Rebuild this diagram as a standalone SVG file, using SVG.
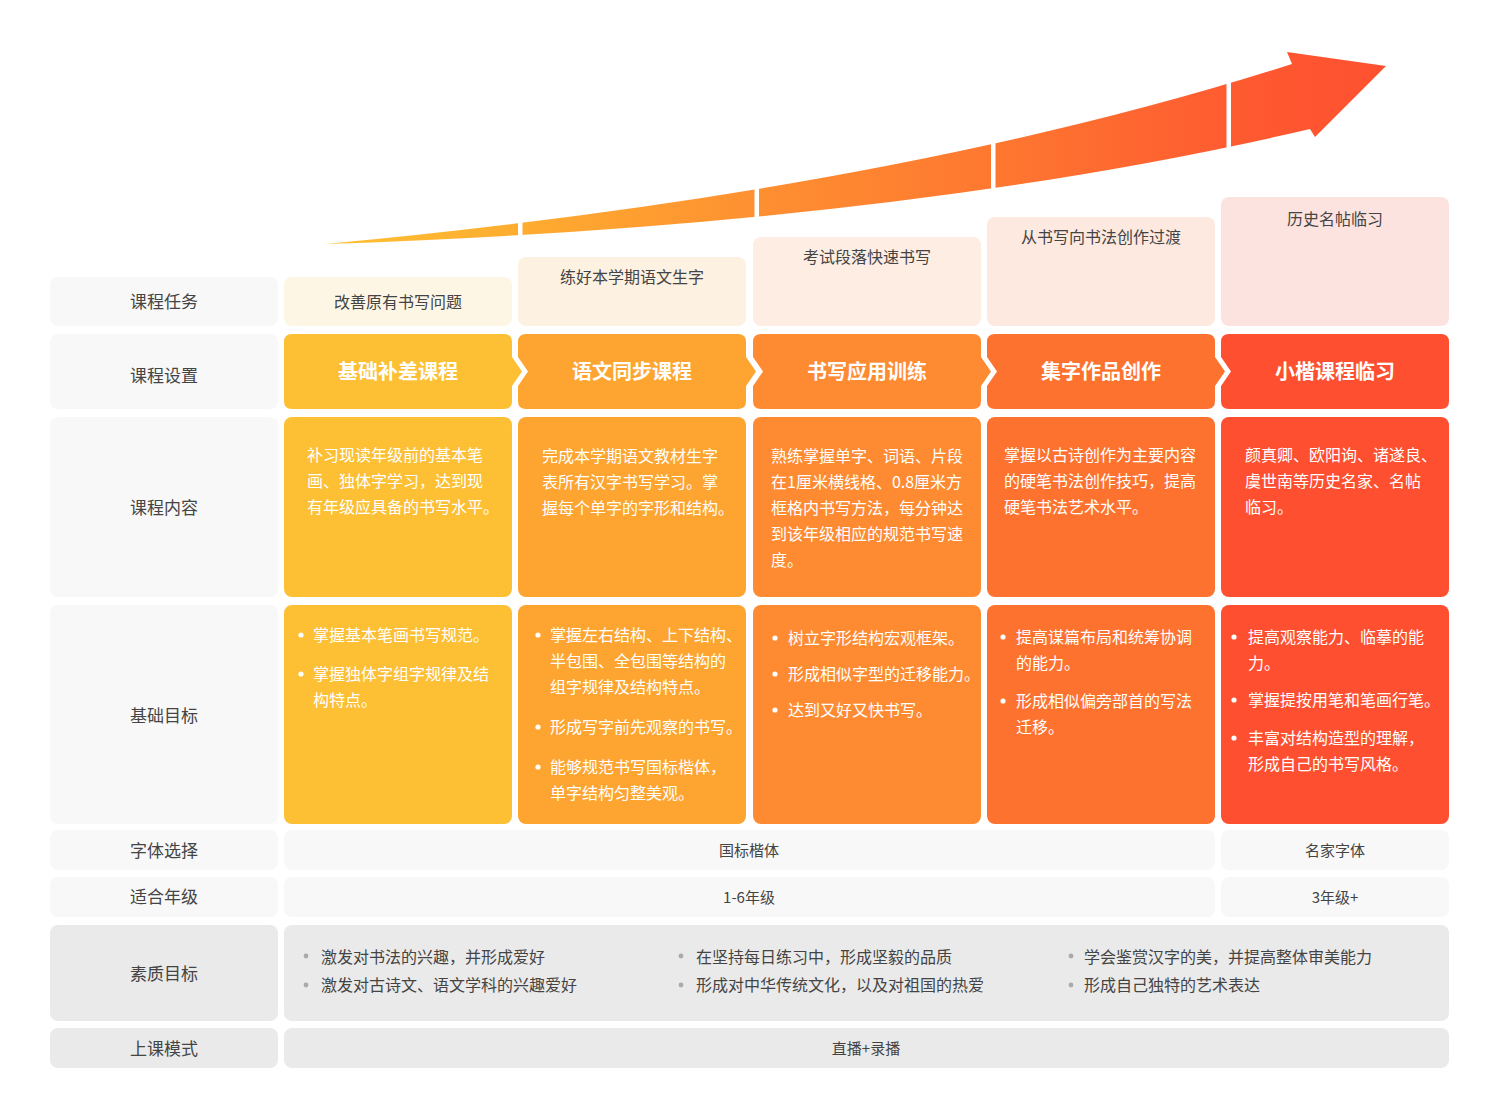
<svg xmlns="http://www.w3.org/2000/svg" width="1500" height="1120" viewBox="0 0 1500 1120">
<defs>
<linearGradient id="arrowGrad" gradientUnits="userSpaceOnUse" x1="325" y1="0" x2="1390" y2="0">
<stop offset="0" stop-color="#FDC133"/>
<stop offset="0.2" stop-color="#FEAA30"/>
<stop offset="0.42" stop-color="#FE8E31"/>
<stop offset="0.65" stop-color="#FE7530"/>
<stop offset="0.86" stop-color="#FE5A30"/>
<stop offset="1" stop-color="#FE5030"/>
</linearGradient>
<style>
text{font-family:"Noto Sans CJK SC","Microsoft YaHei",sans-serif;}
.lbl{fill:#444;font-size:17px;text-anchor:middle;}
.task{fill:#444;font-size:16px;text-anchor:middle;}
.title{fill:#fff;font-size:20px;font-weight:bold;text-anchor:middle;}
.body{fill:#fff;font-size:16px;}
.plain{fill:#444;font-size:15px;text-anchor:middle;}
.q{fill:#444;font-size:16px;}
.lightbox{fill:#F8F8F8;}
.greybox{fill:#EAEAEA;}
.c1{fill:#FDBF34;}
.c2{fill:#FEA531;}
.c3{fill:#FE8B32;}
.c4{fill:#FE7230;}
.c5{fill:#FE5030;}
</style>
</defs>
<rect width="1500" height="1120" fill="#fff"/>

<g id="arrow">
<path d="M325,244 Q900,190 1292,64 L1287,52 L1386,66 L1315,137 L1310,129 Q900,225 325,244 Z" fill="url(#arrowGrad)"/>
<rect x="518" y="200" width="4.5" height="50" fill="#fff"/>
<rect x="754.5" y="170" width="4.5" height="60" fill="#fff"/>
<rect x="991" y="130" width="4.5" height="70" fill="#fff"/>
<rect x="1226.5" y="70" width="4.5" height="90" fill="#fff"/>
</g>

<g id="labels">
<g id="label-task"><rect class="lightbox" x="50" y="277" width="228" height="49" rx="8"/><text class="lbl" x="164" y="308">课程任务</text></g>
<g id="label-setting"><rect class="lightbox" x="50" y="334" width="228" height="75" rx="8"/><text class="lbl" x="164" y="382">课程设置</text></g>
<g id="label-content"><rect class="lightbox" x="50" y="417" width="228" height="180" rx="8"/><text class="lbl" x="164" y="514">课程内容</text></g>
<g id="label-goal"><rect class="lightbox" x="50" y="605" width="228" height="219" rx="8"/><text class="lbl" x="164" y="722">基础目标</text></g>
<g id="label-font"><rect class="lightbox" x="50" y="830" width="228" height="40" rx="8"/><text class="lbl" x="164" y="857">字体选择</text></g>
<g id="label-grade"><rect class="lightbox" x="50" y="877" width="228" height="40" rx="8"/><text class="lbl" x="164" y="903">适合年级</text></g>
<g id="label-quality"><rect class="greybox" x="50" y="925" width="228" height="96" rx="8"/><text class="lbl" x="164" y="980">素质目标</text></g>
<g id="label-mode"><rect class="greybox" x="50" y="1028" width="228" height="40" rx="8"/><text class="lbl" x="164" y="1055">上课模式</text></g>
</g>

<g id="tasks">
<g id="task-1"><rect x="284" y="277" width="228" height="49" rx="8" fill="#FDF6E4"/><text class="task" x="398" y="308">改善原有书写问题</text></g>
<g id="task-2"><rect x="518" y="257" width="228" height="69" rx="8" fill="#FDF1E2"/><text class="task" x="632" y="283">练好本学期语文生字</text></g>
<g id="task-3"><rect x="753" y="237" width="228" height="89" rx="8" fill="#FDEDE2"/><text class="task" x="867" y="263">考试段落快速书写</text></g>
<g id="task-4"><rect x="987" y="217" width="228" height="109" rx="8" fill="#FDE9DF"/><text class="task" x="1101" y="243">从书写向书法创作过渡</text></g>
<g id="task-5"><rect x="1221" y="197" width="228" height="129" rx="8" fill="#FDE3DF"/><text class="task" x="1335" y="225">历史名帖临习</text></g>
</g>

<g id="settings">
<g id="setting-1"><path class="c1" d="M292,334 H504 Q512,334 512,342 V357 L522,371.5 L512,386 V401 Q512,409 504,409 H292 Q284,409 284,401 V342 Q284,334 292,334 Z"/><text class="title" x="398" y="379">基础补差课程</text></g>
<g id="setting-2"><path class="c2" d="M526,334 H738 Q746,334 746,342 V357 L756,371.5 L746,386 V401 Q746,409 738,409 H526 Q518,409 518,401 V386 L528,371.5 L518,357 V342 Q518,334 526,334 Z"/><text class="title" x="632" y="379">语文同步课程</text></g>
<g id="setting-3"><path class="c3" d="M761,334 H973 Q981,334 981,342 V357 L991,371.5 L981,386 V401 Q981,409 973,409 H761 Q753,409 753,401 V386 L763,371.5 L753,357 V342 Q753,334 761,334 Z"/><text class="title" x="867" y="379">书写应用训练</text></g>
<g id="setting-4"><path class="c4" d="M995,334 H1207 Q1215,334 1215,342 V357 L1225,371.5 L1215,386 V401 Q1215,409 1207,409 H995 Q987,409 987,401 V386 L997,371.5 L987,357 V342 Q987,334 995,334 Z"/><text class="title" x="1101" y="379">集字作品创作</text></g>
<g id="setting-5"><path class="c5" d="M1229,334 H1441 Q1449,334 1449,342 V401 Q1449,409 1441,409 H1229 Q1221,409 1221,401 V386 L1231,371.5 L1221,357 V342 Q1221,334 1229,334 Z"/><text class="title" x="1335" y="379">小楷课程临习</text></g>
</g>

<g id="contents">
<g id="content-1"><rect class="c1" x="284" y="417" width="228" height="180" rx="8"/>
<text class="body" x="307" y="461">补习现读年级前的基本笔</text>
<text class="body" x="307" y="487">画、独体字学习，达到现</text>
<text class="body" x="307" y="513">有年级应具备的书写水平。</text></g>
<g id="content-2"><rect class="c2" x="518" y="417" width="228" height="180" rx="8"/>
<text class="body" x="542" y="462">完成本学期语文教材生字</text>
<text class="body" x="542" y="488">表所有汉字书写学习。掌</text>
<text class="body" x="542" y="514">握每个单字的字形和结构。</text></g>
<g id="content-3"><rect class="c3" x="753" y="417" width="228" height="180" rx="8"/>
<text class="body" x="771" y="462">熟练掌握单字、词语、片段</text>
<text class="body" x="771" y="488">在1厘米横线格、0.8厘米方</text>
<text class="body" x="771" y="514">框格内书写方法，每分钟达</text>
<text class="body" x="771" y="540">到该年级相应的规范书写速</text>
<text class="body" x="771" y="566">度。</text></g>
<g id="content-4"><rect class="c4" x="987" y="417" width="228" height="180" rx="8"/>
<text class="body" x="1004" y="461">掌握以古诗创作为主要内容</text>
<text class="body" x="1004" y="487">的硬笔书法创作技巧，提高</text>
<text class="body" x="1004" y="513">硬笔书法艺术水平。</text></g>
<g id="content-5"><rect class="c5" x="1221" y="417" width="228" height="180" rx="8"/>
<text class="body" x="1245" y="461">颜真卿、欧阳询、诸遂良、</text>
<text class="body" x="1245" y="487">虞世南等历史名家、名帖</text>
<text class="body" x="1245" y="513">临习。</text></g>
</g>

<g id="goals">
<g id="goal-1"><rect class="c1" x="284" y="605" width="228" height="219" rx="8"/>
<circle cx="301" cy="635" r="2.6" fill="#fff"/><text class="body" x="313" y="641">掌握基本笔画书写规范。</text>
<circle cx="301" cy="674" r="2.6" fill="#fff"/><text class="body" x="313" y="680">掌握独体字组字规律及结</text>
<text class="body" x="313" y="706">构特点。</text></g>
<g id="goal-2"><rect class="c2" x="518" y="605" width="228" height="219" rx="8"/>
<circle cx="538" cy="635" r="2.6" fill="#fff"/><text class="body" x="550" y="641">掌握左右结构、上下结构、</text>
<text class="body" x="550" y="667">半包围、全包围等结构的</text>
<text class="body" x="550" y="693">组字规律及结构特点。</text>
<circle cx="538" cy="727" r="2.6" fill="#fff"/><text class="body" x="550" y="733">形成写字前先观察的书写。</text>
<circle cx="538" cy="767" r="2.6" fill="#fff"/><text class="body" x="550" y="773">能够规范书写国标楷体，</text>
<text class="body" x="550" y="799">单字结构匀整美观。</text></g>
<g id="goal-3"><rect class="c3" x="753" y="605" width="228" height="219" rx="8"/>
<circle cx="775" cy="638" r="2.6" fill="#fff"/><text class="body" x="788" y="644">树立字形结构宏观框架。</text>
<circle cx="775" cy="674" r="2.6" fill="#fff"/><text class="body" x="788" y="680">形成相似字型的迁移能力。</text>
<circle cx="775" cy="710" r="2.6" fill="#fff"/><text class="body" x="788" y="716">达到又好又快书写。</text></g>
<g id="goal-4"><rect class="c4" x="987" y="605" width="228" height="219" rx="8"/>
<circle cx="1003" cy="637" r="2.6" fill="#fff"/><text class="body" x="1016" y="643">提高谋篇布局和统筹协调</text>
<text class="body" x="1016" y="669">的能力。</text>
<circle cx="1003" cy="701" r="2.6" fill="#fff"/><text class="body" x="1016" y="707">形成相似偏旁部首的写法</text>
<text class="body" x="1016" y="733">迁移。</text></g>
<g id="goal-5"><rect class="c5" x="1221" y="605" width="228" height="219" rx="8"/>
<circle cx="1234" cy="637" r="2.6" fill="#fff"/><text class="body" x="1248" y="643">提高观察能力、临摹的能</text>
<text class="body" x="1248" y="669">力。</text>
<circle cx="1234" cy="700" r="2.6" fill="#fff"/><text class="body" x="1248" y="706">掌握提按用笔和笔画行笔。</text>
<circle cx="1234" cy="738" r="2.6" fill="#fff"/><text class="body" x="1248" y="744">丰富对结构造型的理解，</text>
<text class="body" x="1248" y="770">形成自己的书写风格。</text></g>
</g>

<g id="font-row">
<g id="font-std"><rect class="lightbox" x="284" y="830" width="931" height="40" rx="8"/><text class="plain" x="749" y="856">国标楷体</text></g>
<g id="font-master"><rect class="lightbox" x="1221" y="830" width="228" height="40" rx="8"/><text class="plain" x="1335" y="856">名家字体</text></g>
</g>
<g id="grade-row">
<g id="grade-std"><rect class="lightbox" x="284" y="877" width="931" height="40" rx="8"/><text class="plain" x="749" y="903">1-6年级</text></g>
<g id="grade-master"><rect class="lightbox" x="1221" y="877" width="228" height="40" rx="8"/><text class="plain" x="1335" y="903">3年级+</text></g>
</g>
<g id="quality-row"><rect class="greybox" x="284" y="925" width="1165" height="96" rx="8"/>
<circle cx="306" cy="956" r="2.4" fill="#aaa"/><text class="q" x="321" y="963">激发对书法的兴趣，并形成爱好</text>
<circle cx="306" cy="985" r="2.4" fill="#aaa"/><text class="q" x="321" y="991">激发对古诗文、语文学科的兴趣爱好</text>
<circle cx="681" cy="956" r="2.4" fill="#aaa"/><text class="q" x="696" y="963">在坚持每日练习中，形成坚毅的品质</text>
<circle cx="681" cy="985" r="2.4" fill="#aaa"/><text class="q" x="696" y="991">形成对中华传统文化，以及对祖国的热爱</text>
<circle cx="1071" cy="956" r="2.4" fill="#aaa"/><text class="q" x="1084" y="963">学会鉴赏汉字的美，并提高整体审美能力</text>
<circle cx="1071" cy="985" r="2.4" fill="#aaa"/><text class="q" x="1084" y="991">形成自己独特的艺术表达</text>
</g>
<g id="mode-row"><rect class="greybox" x="284" y="1028" width="1165" height="40" rx="8"/><text class="plain" x="866" y="1054">直播+录播</text></g>
<g id="connectors"></g>
</svg>
